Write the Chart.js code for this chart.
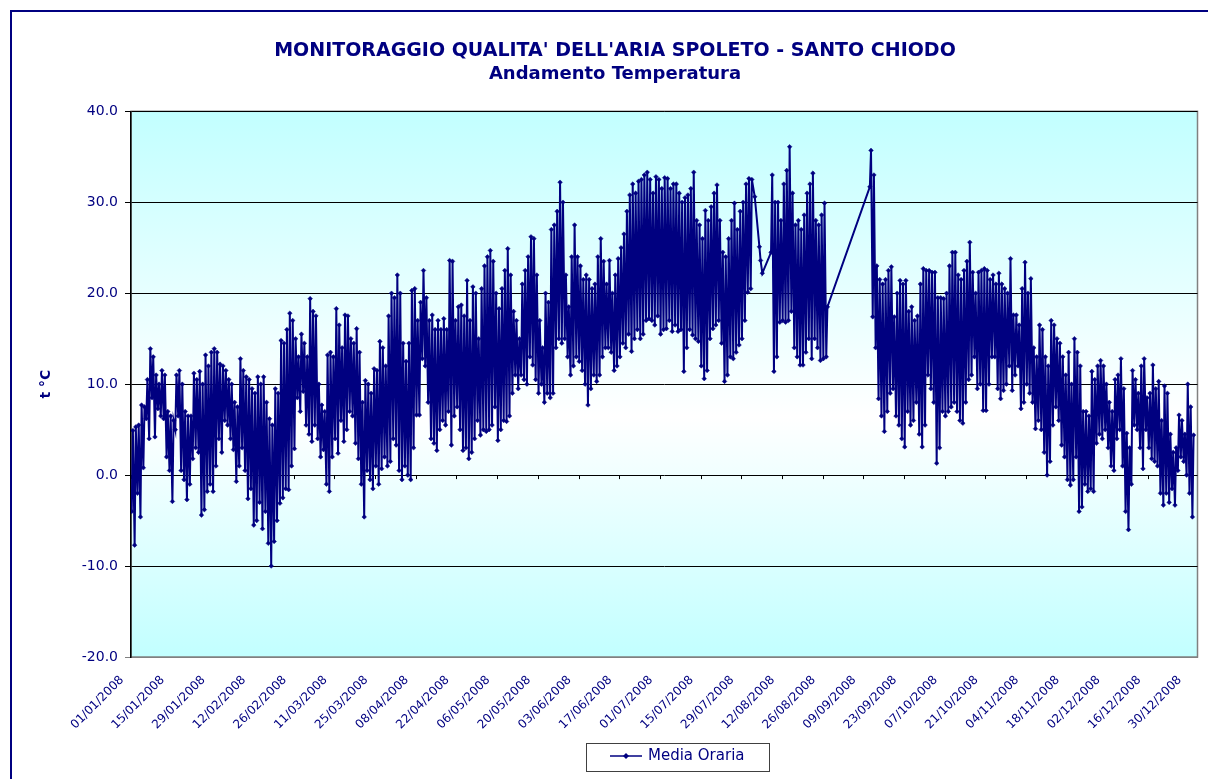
<!DOCTYPE html>
<html><head><meta charset="utf-8">
<script src="https://cdn.jsdelivr.net/npm/chart.js@4.4.0/dist/chart.umd.min.js"></script>
<style>
html,body{margin:0;padding:0;background:#fff;overflow:hidden;}
#wrap{position:relative;width:1208px;height:779px;}
#frame{position:absolute;left:10px;top:10px;width:1300px;height:900px;border:2px solid #000080;box-sizing:border-box;pointer-events:none;}
</style></head><body>
<div id="wrap"><canvas id="c" width="1208" height="779"></canvas><div id="frame"></div></div>
<script>
const titleText = "MONITORAGGIO QUALITA' DELL'ARIA SPOLETO - SANTO CHIODO";
const subtitleText = "Andamento Temperatura";
const yAxisTitle = "t °C";
const seriesName = "Media Oraria";
const yMin = -20, yMax = 40, yStep = 10;
const year = 2008;
const tickEveryDays = 14;
const lastTickDay = 364;
const axisDays = 367;

// Temperature readings per day of 2008 (index 0 = 01/01/2008): early-morning and afternoon values (°C)
const tempEarly = [
 -4.0,-7.7,-2.0,-4.6,0.8,6.2,4.0,8.5,4.2,7.3,
 6.5,6.2,2.0,0.5,-2.9,5.0,6.5,0.5,-0.5,-2.7,
 -1.0,1.8,3.0,2.5,-4.4,-3.8,-1.8,-1.0,-1.8,1.0,
 4.0,2.5,6.0,5.5,4.0,2.8,-0.7,1.0,3.0,0.5,
 -2.6,-1.5,-5.5,-5.0,-3.0,-5.9,-4.0,-7.5,-10.0,-7.3,
 -5.0,-3.1,-2.5,-1.5,-1.6,1.0,2.9,8.5,7.0,9.2,
 5.5,4.5,3.7,5.5,4.0,2.0,2.8,-1.0,-1.8,2.0,
 4.0,2.4,6.0,3.7,5.0,7.0,6.5,3.5,1.8,-1.0,
 -4.6,0.5,-0.5,-1.5,1.0,-1.0,0.7,2.0,1.0,1.5,
 4.0,3.3,0.5,-0.5,1.0,0.0,-0.5,3.0,6.6,6.6,
 12.8,12.0,8.0,4.0,3.5,2.7,5.0,6.0,5.5,7.0,
 3.3,6.5,7.5,5.0,2.7,3.0,1.8,2.5,4.0,6.0,
 4.4,5.0,4.8,5.0,5.5,7.5,3.8,5.0,6.0,5.9,
 6.5,9.0,11.0,9.5,11.0,10.5,10.0,13.0,12.1,10.5,
 9.0,10.0,8.0,9.0,8.5,9.0,14.0,15.0,14.5,15.0,
 13.0,11.0,12.0,13.0,12.5,11.5,10.0,7.7,9.5,11.0,
 10.3,11.0,13.0,14.0,14.0,13.5,11.5,12.0,13.0,14.5,
 14.0,15.5,13.6,15.0,16.0,15.0,15.5,17.0,17.2,17.0,
 16.5,17.5,15.5,16.0,16.1,17.0,15.8,16.5,15.8,16.0,
 11.4,14.0,16.0,15.4,15.0,14.7,12.0,10.6,11.5,15.0,
 16.1,16.5,17.0,14.5,10.3,11.0,13.0,12.8,13.5,14.3,
 15.0,17.0,20.1,20.5,null,null,25.1,22.2,null,null,
 24.5,11.4,13.0,16.8,17.0,16.8,17.0,18.0,14.0,13.0,
 12.1,12.1,13.5,15.0,12.8,15.0,14.0,12.6,12.8,13.0,
 null,null,null,null,null,null,null,null,null,null,
 null,null,null,null,31.7,17.4,14.0,8.4,6.5,4.8,
 7.0,9.0,9.5,6.5,5.5,4.0,3.1,7.0,5.5,6.0,
 8.0,4.5,3.1,5.5,11.0,9.5,8.0,1.3,3.0,7.0,
 6.5,7.0,7.5,8.0,7.0,6.0,5.7,8.0,10.5,11.0,
 13.0,9.5,10.0,7.1,7.1,10.0,13.0,13.0,9.5,8.4,
 9.3,10.0,12.0,9.3,11.0,12.0,7.3,8.0,10.0,9.0,
 8.0,5.1,6.0,5.0,2.5,0.0,1.5,5.5,7.5,6.0,
 3.3,2.0,-0.5,-1.1,-0.5,2.0,-4.0,-3.5,-1.0,-1.8,
 -1.5,-1.8,3.5,4.5,4.0,5.0,3.0,1.0,0.5,4.0,
 5.0,1.0,-4.0,-6.0,-1.0,5.5,5.0,3.0,0.7,5.0,
 3.0,1.8,1.5,1.0,-2.0,-3.3,-2.0,-3.0,-1.5,-3.3,
 0.5,2.0,1.5,0.0,-2.0,-4.6
];
const tempLate = [
 4.9,5.3,5.5,7.7,7.5,10.5,13.9,13.0,11.0,10.0,
 11.5,11.0,7.0,6.5,6.0,11.0,11.5,10.0,7.0,6.5,
 6.5,11.2,10.5,11.4,10.0,13.2,12.0,13.5,13.9,13.5,
 12.2,12.0,11.5,10.5,10.0,8.0,7.5,12.8,11.5,10.8,
 10.5,9.5,9.0,10.8,10.0,10.8,8.0,6.2,5.5,9.5,
 9.0,14.8,14.5,16.0,17.8,17.0,15.0,13.0,15.5,14.5,
 13.0,19.4,18.0,17.5,10.0,7.7,7.0,13.2,13.5,13.0,
 18.3,16.5,14.0,17.6,17.5,15.0,14.5,16.1,13.5,8.0,
 10.4,10.0,9.0,11.7,11.5,14.7,14.0,12.0,17.5,20.0,
 19.5,22.0,20.0,14.5,12.5,14.5,20.3,20.5,17.0,19.0,
 22.5,19.5,17.0,17.6,16.0,17.0,16.0,17.2,16.0,23.6,
 23.5,17.0,18.5,18.7,17.5,21.4,17.0,20.7,20.0,15.0,
 20.5,23.0,24.0,24.7,23.5,20.0,18.3,20.5,22.5,24.9,
 22.0,18.0,17.0,15.0,21.0,22.5,24.0,26.2,26.0,22.0,
 17.0,14.0,20.0,19.0,27.0,27.5,29.0,32.2,30.0,22.0,
 18.5,24.0,27.5,24.0,23.0,21.5,22.0,21.5,20.5,21.0,
 24.0,26.0,23.5,21.0,23.6,20.0,22.0,23.8,25.0,26.5,
 29.0,30.8,32.0,31.0,32.3,32.5,33.0,33.3,32.5,31.0,
 32.8,32.5,31.5,32.7,32.6,31.5,32.0,32.0,31.0,30.0,
 30.5,30.8,31.5,33.3,28.0,27.5,26.0,29.1,28.0,29.5,
 31.0,31.9,28.0,24.5,24.0,26.0,28.0,29.9,27.0,29.0,
 30.0,32.0,32.6,32.5,30.6,null,23.6,null,null,null,
 33.0,30.0,30.0,28.0,32.0,33.5,36.1,31.0,27.5,28.0,
 27.0,28.6,31.0,32.0,33.2,28.0,27.5,28.6,29.9,18.5,
 null,null,null,null,null,null,null,null,null,null,
 null,null,null,null,35.7,33.0,23.0,21.5,21.0,21.5,
 22.5,22.9,17.4,20.0,21.4,21.0,21.4,18.0,18.5,17.0,
 17.5,21.0,22.7,22.5,22.5,22.3,22.3,19.5,19.5,19.4,
 20.0,23.0,24.5,24.5,22.0,21.5,22.5,23.5,25.6,22.3,
 20.0,22.3,22.5,22.7,22.5,21.5,22.0,21.0,22.2,21.0,
 20.5,20.0,23.8,17.6,17.6,16.5,20.5,23.4,20.0,21.6,
 14.0,13.0,16.5,16.0,13.0,12.0,17.0,16.5,15.0,14.5,
 13.0,11.0,13.5,10.0,15.0,13.5,12.0,7.0,7.0,6.5,
 11.4,10.5,12.0,12.6,12.0,10.0,8.0,7.0,10.5,11.0,
 12.8,9.5,4.6,3.0,11.5,10.5,9.0,12.0,12.8,8.5,
 9.0,12.1,9.5,10.3,6.0,9.8,9.0,4.5,2.5,3.0,
 6.6,6.0,4.5,10.0,7.5,4.4
];
const readingOffsets = [0.25, 0.65]; // fraction of the day for early / late reading

if (tempEarly.length !== 366 || tempLate.length !== 366) {
  throw new Error('length mismatch ' + tempEarly.length + ' ' + tempLate.length);
}

const points = [];
for (let d = 0; d < tempEarly.length; d++) {
  points.push({x: d + readingOffsets[0], y: tempEarly[d]});
  points.push({x: d + readingOffsets[1], y: tempLate[d]});
}

function dayLabel(d) {
  const dt = new Date(year, 0, 1 + d);
  const p = n => String(n).padStart(2, '0');
  return p(dt.getDate()) + '/' + p(dt.getMonth() + 1) + '/' + dt.getFullYear();
}

const NAVY = '#000080';
Chart.defaults.font.family = "'DejaVu Sans', Arial, sans-serif";

const legendIcon = (() => {
  const c = document.createElement('canvas');
  c.width = 32; c.height = 10;
  const x = c.getContext('2d');
  x.strokeStyle = NAVY; x.lineWidth = 1.5;
  x.beginPath(); x.moveTo(0, 5); x.lineTo(32, 5); x.stroke();
  x.fillStyle = NAVY;
  x.beginPath(); x.moveTo(16, 2); x.lineTo(19, 5); x.lineTo(16, 8); x.lineTo(13, 5); x.closePath(); x.fill();
  return c;
})();

const legendCenterX = 678;
const titleCenterX = 615;
const decor = {
  id: 'decor',
  beforeDraw(chart) {
    const {ctx, chartArea: a} = chart;
    const g = ctx.createLinearGradient(0, a.top, 0, a.bottom);
    g.addColorStop(0, '#c2ffff');
    g.addColorStop(0.56, '#ffffff');
    g.addColorStop(1, '#c2ffff');
    ctx.save();
    ctx.fillStyle = g;
    ctx.fillRect(a.left, a.top, a.right - a.left, a.bottom - a.top);
    ctx.strokeStyle = '#808080'; ctx.lineWidth = 1.5;
    ctx.strokeRect(a.left, a.top, a.right - a.left, a.bottom - a.top);
    ctx.restore();
  },
  beforeDatasetsDraw(chart) {
    const {ctx, scales: {x, y}} = chart;
    const y0 = y.getPixelForValue(0);
    ctx.save(); ctx.strokeStyle = '#000'; ctx.lineWidth = 1;
    x.ticks.forEach(t => {
      const px = Math.round(x.getPixelForValue(t.value)) + 0.5;
      ctx.beginPath(); ctx.moveTo(px, y0); ctx.lineTo(px, y0 + 4); ctx.stroke();
    });
    ctx.restore();
  },
  afterLayout(chart) {
    const lg = chart.legend;
    const dx = legendCenterX - (lg.left + lg.right) / 2;
    lg.left += dx; lg.right += dx;
    chart.boxes.forEach(b => {
      if (b !== lg && b.options && (b.options.text === titleText || b.options.text === subtitleText)) {
        const d = titleCenterX - (b.left + b.right) / 2;
        b.left += d; b.right += d;
      }
    });
  },
  afterDraw(chart) {
    const {ctx} = chart; const lg = chart.legend;
    ctx.save(); ctx.strokeStyle = '#404040'; ctx.lineWidth = 1;
    ctx.strokeRect(legendCenterX - 91.5, Math.round(lg.top) - 0.5, 183, 28);
    ctx.restore();
  }
};

new Chart(document.getElementById('c'), {
  type: 'line',
  data: {
    datasets: [{
      label: seriesName,
      data: points,
      borderColor: NAVY,
      backgroundColor: NAVY,
      borderWidth: 2,
      pointStyle: 'rectRot',
      pointRadius: 2.3,
      pointBorderWidth: 0.5,
      pointBorderColor: NAVY,
      pointBackgroundColor: NAVY,
      spanGaps: true,
      tension: 0
    }]
  },
  options: {
    responsive: false,
    animation: false,
    layout: {padding: {left: 0, right: 10.5, top: 0, bottom: 5.5}},
    scales: {
      x: {
        type: 'linear', min: 0, max: axisDays,
        grid: {display: false},
        border: {display: true, color: '#808080', width: 1},
        ticks: {
          stepSize: tickEveryDays, autoSkip: false, includeBounds: false,
          maxRotation: 45, minRotation: 45,
          color: NAVY, font: {size: 12}, padding: 8, labelOffset: -9,
          callback: v => dayLabel(v)
        },
        afterBuildTicks: s => { s.ticks = s.ticks.filter(t => t.value % tickEveryDays === 0 && t.value <= lastTickDay); },
        afterFit: s => { s.height = 86.5; }
      },
      y: {
        min: yMin, max: yMax,
        ticks: {stepSize: yStep, color: NAVY, font: {size: 14}, padding: 7, callback: v => v.toFixed(1)},
        grid: {color: c => (c.tick && c.tick.value === yMin) ? '#808080' : '#000000', lineWidth: 1, tickLength: 6},
        border: {display: true, color: '#000000', width: 1.5},
        title: {display: true, text: yAxisTitle, color: NAVY, font: {size: 14, weight: 'bold'}, padding: {top: 37.6, bottom: 0}},
        afterFit: s => { s.width = 131; }
      }
    },
    plugins: {
      title: {display: true, text: titleText, color: NAVY, font: {size: 19, weight: 'bold'}, padding: {top: 39.5, bottom: 1.2}},
      subtitle: {display: true, text: subtitleText, color: NAVY, font: {size: 18, weight: 'bold'}, padding: {top: 0, bottom: 26.2}},
      legend: {
        position: 'bottom',
        labels: {
          color: NAVY, font: {size: 15}, usePointStyle: true, pointStyleWidth: 29, padding: 5,
          generateLabels: chart => [{
            text: seriesName, pointStyle: legendIcon, fillStyle: NAVY, strokeStyle: NAVY,
            lineWidth: 0, datasetIndex: 0, fontColor: NAVY, hidden: false
          }]
        }
      },
      tooltip: {enabled: false}
    }
  },
  plugins: [decor]
});
</script>
</body></html>
